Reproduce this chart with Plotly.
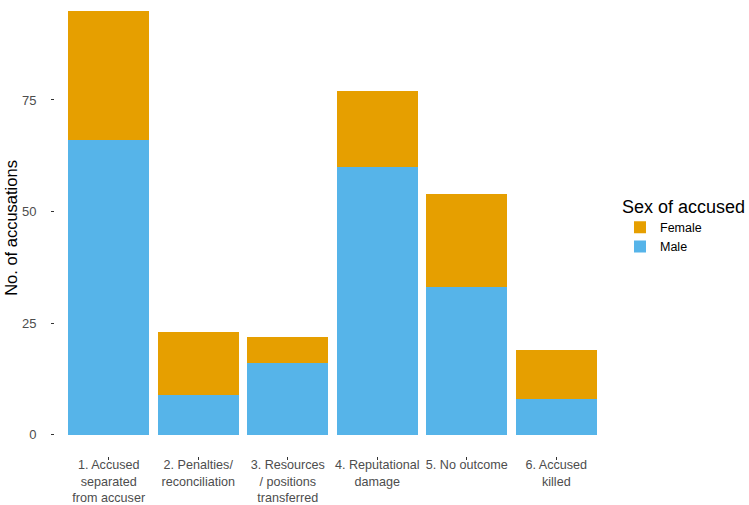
import plotly.graph_objects as go

categories = [
    "1. Accused<br>separated<br>from accuser",
    "2. Penalties/<br>reconciliation",
    "3. Resources<br>/ positions<br>transferred",
    "4. Reputational<br>damage",
    "5. No outcome",
    "6. Accused<br>killed",
]
male = [66, 9, 16, 60, 33, 8]
female = [29, 14, 6, 17, 21, 11]
y_ticks = [0, 25, 50, 75]

FONT = "Liberation Sans, Arial, sans-serif"

fig = go.Figure()
fig.add_trace(go.Bar(x=categories, y=male, name="Male", marker=dict(color="#56B4E9", line=dict(width=0))))
fig.add_trace(go.Bar(x=categories, y=female, name="Female", marker=dict(color="#E69F00", line=dict(width=0))))

fig.update_layout(
    width=749, height=505,
    barmode="stack", bargap=0.1,
    paper_bgcolor="white", plot_bgcolor="white",
    margin=dict(l=55, r=139, t=0, b=49, pad=0),
    font=dict(family=FONT, color="#4d4d4d", size=12.5),
    legend=dict(
        title=dict(text="Sex of accused", font=dict(size=18, color="black")),
        traceorder="reversed",
        x=1.018, xanchor="left", y=0.585, yanchor="top",
        font=dict(size=12.5, color="black"),
        itemwidth=30, tracegroupgap=0,
    ),
    xaxis=dict(
        range=[-0.6, 5.6], showgrid=False, zeroline=False, showline=False,
        automargin=False,
        ticks="outside", ticklen=3, tickcolor="#333333", tickwidth=1,
        tickfont=dict(size=12.6, color="#4d4d4d"),
        ticklabelstandoff=-6,
    ),
    yaxis=dict(
        range=[-4.75, 97.4], showgrid=False, zeroline=False, showline=False,
        automargin=False,
        tickvals=y_ticks, ticks="outside", ticklen=3, tickcolor="#333333", tickwidth=1,
        tickfont=dict(size=13, color="#4d4d4d"),
        ticklabelstandoff=12,
        title=dict(text="No. of accusations", font=dict(size=16.5, color="black"), standoff=0),
    ),
)

fig.write_html("out.html", config={"displayModeBar": False},
               post_script="document.body.style.margin='0';")
